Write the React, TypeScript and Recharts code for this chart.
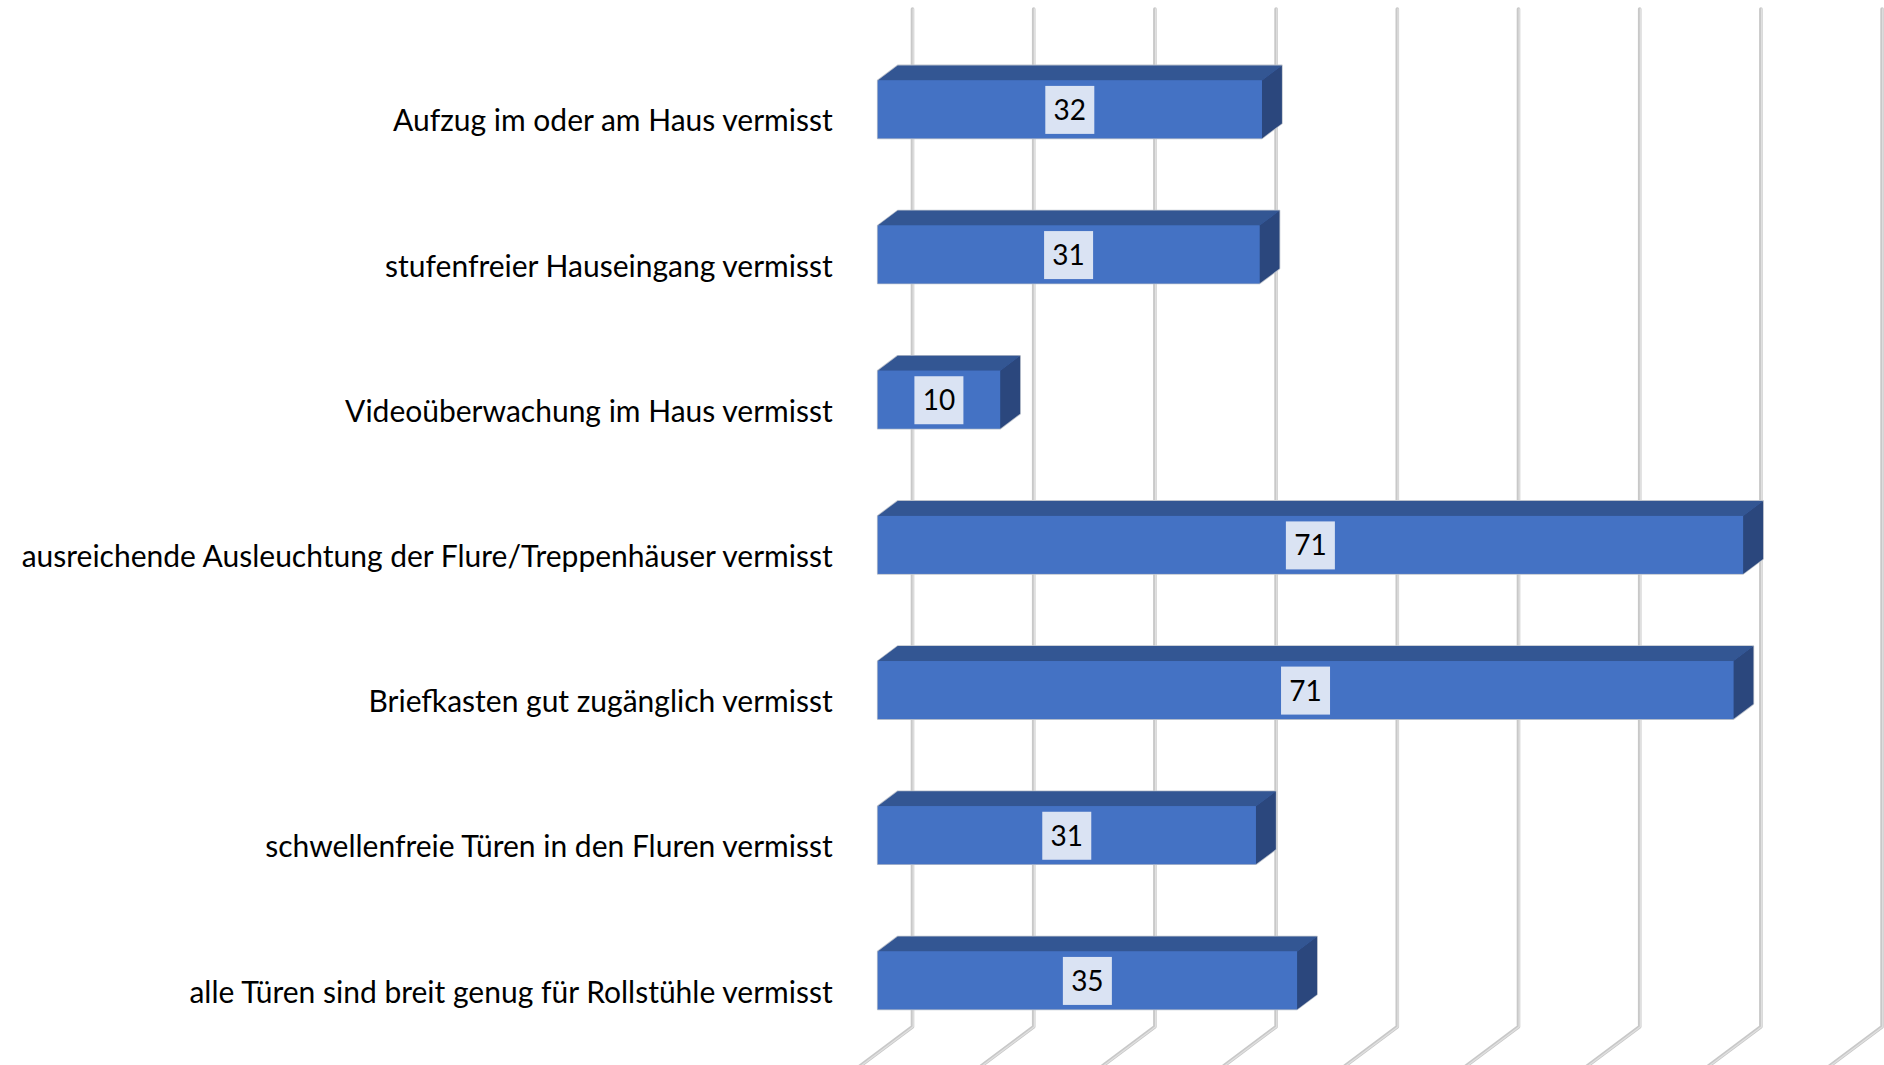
import { Bar, BarChart, CartesianGrid, LabelList, XAxis, YAxis } from "recharts";

const categories = [
  "Aufzug im oder am Haus vermisst",
  "stufenfreier Hauseingang vermisst",
  "Videoüberwachung im Haus vermisst",
  "ausreichende Ausleuchtung der Flure/Treppenhäuser vermisst",
  "Briefkasten gut zugänglich vermisst",
  "schwellenfreie Türen in den Fluren vermisst",
  "alle Türen sind breit genug für Rollstühle vermisst",
];
const values = [31.7, 31.5, 10.1, 71.4, 70.6, 31.2, 34.6];
const valueLabels = ["32", "31", "10", "71", "71", "31", "35"];
const xTicks = [0, 10, 20, 30, 40, 50, 60, 70, 80];

const data = categories.map((name, i) => ({
  name,
  value: values[i],
  label: valueLabels[i],
}));

const FONT = "Lato, 'Open Sans', sans-serif";
const DX = 20;
const DY = 15;
const BACK_X = 34.8;

function Bar3D({ x, y, width, height }: any) {
  const outline = `M${x} ${y} l${DX} ${-DY} h${width} v${height} l${-DX} ${DY} h${-width} Z`;
  return (
    <g>
      <path d={outline} fill="#4472c4" stroke="#bcc2cc" strokeWidth={1.6} strokeLinejoin="round" />
      <path d={`M${x} ${y} l${DX} ${-DY} h${width} l${-DX} ${DY} Z`} fill="#335693" />
      <path d={`M${x + width} ${y} l${DX} ${-DY} v${height} l${-DX} ${DY} Z`} fill="#2b477d" />
      <rect x={x} y={y} width={width} height={height} fill="#4472c4" />
    </g>
  );
}

function GridLine({ x1, y1, y2 }: any) {
  const bx = x1 + BACK_X;
  const d = `M${bx} ${y1} V${y2} L${bx - 60} ${y2 + 45}`;
  return (
    <g fill="none" strokeLinejoin="round" strokeLinecap="round">
      <path d={d} stroke="#c8c8c8" strokeWidth={3.6} />
      <path d={d} stroke="#e0e0e0" strokeWidth={1.3} transform="translate(0.7 0)" />
    </g>
  );
}

function CategoryTick({ x, y, payload }: any) {
  return (
    <text x={x} y={y + 22.5} textAnchor="end" fontFamily={FONT} fontSize={30} fill="#000">
      {payload.value}
    </text>
  );
}

function ValueLabel({ x, y, width, height, value }: any) {
  const cx = x + width / 2;
  const cy = y + height / 2 + 0.5;
  return (
    <g>
      <rect x={cx - 24.5} y={cy - 24} width={49} height={48} fill="#dae3f3" />
      <text x={cx} y={cy + 10} textAnchor="middle" fontFamily={FONT} fontSize={28} fill="#000">
        {value}
      </text>
    </g>
  );
}

export default function App() {
  return (
    <div style={{ position: "absolute", left: 0, top: 0, width: 1884, height: 1065, overflow: "hidden" }}>
      <BarChart
        width={1884}
        height={1065}
        data={data}
        layout="vertical"
        margin={{ top: 36.4, right: 36.7, bottom: 12.4, left: 0 }}
        barSize={58}
      >
        <CartesianGrid
          horizontal={false}
          vertical={(props: any) => <GridLine key={props.key} {...props} />}
          y={9}
          height={1017.7}
        />
        <XAxis type="number" domain={[0, 80]} ticks={xTicks} hide />
        <YAxis
          type="category"
          dataKey="name"
          width={877.7}
          axisLine={false}
          tickLine={false}
          interval={0}
          tickMargin={39}
          tick={<CategoryTick />}
        />
        <Bar dataKey="value" isAnimationActive={false} shape={<Bar3D />}>
          <LabelList dataKey="label" content={<ValueLabel />} />
        </Bar>
      </BarChart>
    </div>
  );
}
